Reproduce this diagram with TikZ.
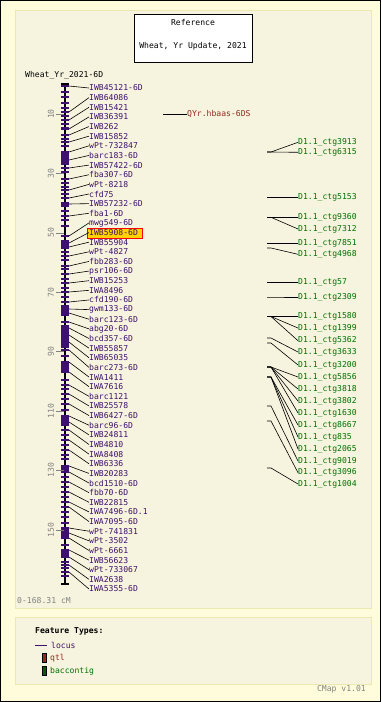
\documentclass[tikz,border=0pt]{standalone}
\usepackage{fontspec}
\setmonofont{DejaVu Sans Mono}
\usetikzlibrary{calc}

\definecolor{bgouter}{RGB}{254,252,218}
\definecolor{bginner}{RGB}{246,244,222}
\definecolor{panelline}{RGB}{236,232,178}
\definecolor{locus}{RGB}{62,16,112}
\definecolor{qtlcol}{RGB}{150,40,30}
\definecolor{ctgcol}{RGB}{0,112,0}
\definecolor{tickgrey}{RGB}{130,130,130}
\definecolor{hlfill}{RGB}{255,210,0}

\begin{document}
\begin{tikzpicture}[x=1pt,y=-1pt,
txt/.style={inner sep=0pt,font=\ttfamily\fontsize{8.1}{9}\selectfont},
lbl/.style={txt,anchor=west,text=locus},
ctg/.style={txt,anchor=west,text=ctgcol},
panel/.style={draw=panelline,fill=bginner,line width=1pt},
link/.style={black,line width=.6pt}]
\path[use as bounding box] (0,0) rectangle (381,702);
\draw[fill=bgouter,line width=1.2pt] (.6,.6) rectangle (380.4,701.4);
\draw[panel] (15,10) rectangle (371,608);
\draw[panel] (15,617) rectangle (371,684);
% title
\node[draw,fill=white,line width=1pt,minimum width=118,minimum height=48,inner sep=0](title) at (193,38){};
\node[txt](ref) at (193,22){Reference};
\node[txt](set) at (193,46){Wheat, Yr Update, 2021};
\node[txt,anchor=west](map) at (25,75){Wheat\_Yr\_2021-6D};
% chromosome
\draw[line width=1.6pt] (65,84)--(65,584);
\draw[line width=1.4pt] (61,84)--(69,84) (61,584)--(69,584);
\foreach \a/\b in {127/130,152/165,202/207,240/249,305/316,325/348,363/372,417/426,467/471,528/538,550/558}
  \fill[locus] (61,\a) rectangle (69,\b);
\foreach \t in {92,97,103,108,116,124,139,146,172,183,187,194,211,220,226,252,260,269,279,288,297,356,380,389,399,410,435,445,455,459,477,487,497,512,517,523,545,562,568,576}
  \draw[locus,line width=1.2pt] (61,\t)--(69,\t);
% scale
\foreach \c in {10,30,50,70,90,110,130,150}{
  \draw[tickgrey,line width=.6pt] (56,84.3+2.97*\c)--(64,84.3+2.97*\c);
  \node[txt,text=tickgrey,rotate=90](s\c) at (51,84.3+2.97*\c){\c};
}
\node[txt,anchor=west,text=tickgrey](range) at (17,601){0-168.31 cM};
% highlighted locus
\draw[red,fill=hlfill,line width=.8pt] (87,228) rectangle (142,238);
% loci
\foreach \name/\oy [count=\i from 0] in {IWB45121-6D/86,IWB64086/112,IWB15421/120,IWB36391/129,IWB262/135,IWB15852/142,wPt-732847/152,barc183-6D/160,IWB57422-6D/168,fba307-6D/179,wPt-8218/190,cfd75/198,IWB57232-6D/204,fba1-6D/216,mwg549-6D/236,IWB5908-6D/243,IWB55904/247,wPt-4827/256,fbb283-6D/266,psr106-6D/274,IWB15253/283,IWA8496/292,cfd190-6D/302,gwm133-6D/309,barc123-6D/313,abg20-6D/322,bcd357-6D/328,IWB55857/335,IWB65035/342,barc273-6D/350,IWA1411/362,IWA7616/372,barc1121/385,IWB25578/394,IWB6427-6D/404,barc96-6D/416,IWB24811/422,IWB4810/430,IWA8408/440,IWB6336/450,IWB20283/466,bcd1510-6D/472,fbb70-6D/482,IWB22815/492,IWA7496-6D.1/502,IWA7095-6D/507,wPt-741831/528,wPt-3502/533,wPt-6661/538,IWB56623/550,wPt-733067/557,IWA2638/565,IWA5355-6D/572}{
  \coordinate(p\i) at (69,\oy);
  \draw[locus,line width=1.2pt] (61,\oy)--(p\i);
  \node[lbl](m\i) at (89,88+9.635*\i){\name};
  \draw[link] (p\i)--(m\i.west);
}
% qtl
\coordinate(q0) at (163,114);
\node[txt,anchor=west,text=qtlcol](qtl) at (187,114){QYr.hbaas-6DS};
\draw[link] (q0)--(qtl.west);
% contigs
\foreach \name/\ly/\oy [count=\i] in {3913/142.3/152,6315/152.3/152,5153/197.3/197.3,9360/217.3/217.3,7312/229/217.3,7851/243.7/243.7,4968/254.3/248,57/282.3/282.3,2309/297/297,1580/316.5/316.5,1399/328/316.5,5362/340.7/316.5,3633/352/338,3200/365/343,5856/377/367,3818/389/367,3802/401/367,1630/413/367,8667/425/377,835/437/377,2065/449/377,9019/461/406,3096/472.7/421,1004/484/468}{
  \coordinate(r\i) at (267,\oy);
  \node[ctg](c\i) at (298,\ly){D1.1\_ctg\name};
  \draw[link] (r\i)--++(4,0)--(c\i.west);
}
% legend
\node[txt,anchor=west,font=\ttfamily\bfseries\fontsize{8.1}{9}\selectfont](ft) at (35,631){Feature Types:};
\draw[locus,line width=.8pt] (35,645)--(47,645);
\node[lbl](lg1) at (51,645){locus};
\draw[black,fill=qtlcol,line width=.6pt] (42,653) rectangle (46,662);
\node[txt,anchor=west,text=qtlcol](lg2) at (50,658){qtl};
\draw[black,fill=ctgcol!80!black,line width=.6pt] (42,666) rectangle (46,675);
\node[ctg](lg3) at (50,671){baccontig};
\node[txt,anchor=east,text=tickgrey](ver) at (366,689){CMap v1.01};
\end{tikzpicture}
\end{document}
